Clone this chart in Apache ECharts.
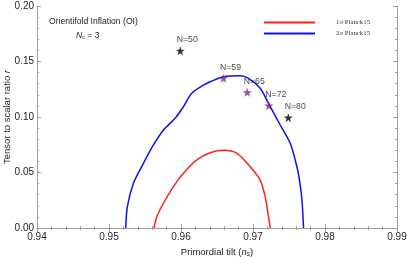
<!DOCTYPE html>
<html><head><meta charset="utf-8">
<script src="https://cdn.jsdelivr.net/npm/echarts@6/dist/echarts.min.js"></script>
<style>html,body{margin:0;padding:0;background:#fff}#c{width:407px;height:257px}</style>
</head><body><div id="c"></div>
<script>
// Tick labels
const xTicks = [0.94, 0.95, 0.96, 0.97, 0.98, 0.99];
const yTicks = [0.00, 0.05, 0.10, 0.15, 0.20];
// 1-sigma Planck15 contour (ns, r)
const sigma1 = [[0.95626,0],[0.95664,0.0102],[0.95756,0.0223],[0.95895,0.0372],[0.96034,0.0493],[0.96220,0.0613],[0.96405,0.0678],[0.96590,0.0700],[0.96776,0.0673],[0.96961,0.0552],[0.97100,0.0432],[0.97169,0.0282],[0.97215,0.0102],[0.97239,0]];
// 2-sigma Planck15 contour (ns, r)
const sigma2 = [[0.95233,0],[0.95255,0.0192],[0.95339,0.0403],[0.95478,0.0583],[0.95617,0.0748],[0.95756,0.0883],[0.95918,0.0988],[0.96034,0.1093],[0.96150,0.1214],[0.96312,0.1288],[0.96405,0.1318],[0.96590,0.1363],[0.96822,0.1372],[0.96937,0.1349],[0.97100,0.1259],[0.97215,0.1123],[0.97378,0.0928],[0.97517,0.0763],[0.97610,0.0552],[0.97646,0.0432],[0.97680,0.0252],[0.97702,0]];
// Model predictions
const blackNames = ['N=50','N=80'];
const blackPts = [[0.9599,0.1597],[0.9749,0.0994]];
const purpleNames = ['N=59','N=65','N=72'];
const purplePts = [[0.9659,0.1349],[0.9692,0.1222],[0.9722,0.1102]];

const star = 'path://M50,0 L61.8,35.1 L98.9,35.5 L69.1,57.6 L80.2,93.0 L50,71.5 L19.8,93.0 L30.9,57.6 L1.1,35.5 L38.2,35.1 Z';
const font = 'Liberation Sans, Arial, sans-serif';
const axisCol = '#a0a0a0';
const txt = '#222';

function pts(names, vals){ return vals.map((v,i)=>({name:names[i], value:v})); }

const chart = echarts.init(document.getElementById('c'));
const baseX = {type:'value', min:0.94, max:0.99, interval:0.01,
  axisLine:{lineStyle:{color:axisCol}}, axisTick:{inside:true,length:4,lineStyle:{color:axisCol}},
  minorTick:{show:true,splitNumber:5,length:2,lineStyle:{color:axisCol}}, splitLine:{show:false}};
const baseY = {type:'value', min:0, max:0.2, interval:0.05,
  axisLine:{lineStyle:{color:axisCol}}, axisTick:{inside:true,length:4,lineStyle:{color:axisCol}},
  minorTick:{show:true,splitNumber:5,length:2,lineStyle:{color:axisCol}}, splitLine:{show:false}};
chart.setOption({
  animation:false,
  grid:{left:37,right:10,top:6,bottom:29,containLabel:false,outerBoundsMode:'none'},
  legend:{left:259,top:14,orient:'vertical',itemWidth:51,itemHeight:2,icon:'rect',itemGap:4,
    textStyle:{fontFamily:'Liberation Serif, serif',fontSize:6.8,color:'#333',padding:[0,0,0,16]},
    data:['1σ Planck15','2σ Planck15']},
  xAxis:[Object.assign({}, baseX, {position:'bottom',
      axisLabel:{fontFamily:font,fontSize:10,color:txt,margin:4,formatter:v=>v.toFixed(2)},
      name:'{t|Primordial tilt (}{i|n}{s|s}{t|)}', nameLocation:'middle', nameGap:18, nameMoveOverlap:false,
      nameTextStyle:{rich:{t:{fontFamily:font,fontSize:9.5,color:txt},i:{fontFamily:font,fontSize:9.5,fontStyle:'italic',color:txt},s:{fontFamily:font,fontSize:6.5,fontStyle:'italic',color:txt,padding:[5,0,0,0]}}}}),
    Object.assign({}, baseX, {position:'top', axisLabel:{show:false}})],
  yAxis:[Object.assign({}, baseY, {position:'left',
      axisLabel:{fontFamily:font,fontSize:10,color:txt,margin:3,formatter:v=>v.toFixed(2)},
      name:'{t|Tensor to scalar ratio }{i|r}', nameLocation:'middle', nameGap:25, nameMoveOverlap:false,
      nameTextStyle:{rich:{t:{fontFamily:font,fontSize:9.5,color:txt},i:{fontFamily:font,fontSize:9.5,fontStyle:'italic',color:txt}}}}),
    Object.assign({}, baseY, {position:'right', axisLabel:{show:false}})],
  graphic:[
    {type:'text',left:49,top:17,style:{text:'Orientifold Inflation (OI)',font:'8.6px '+font,fill:txt}},
    {type:'text',left:76,top:31,style:{text:'{i|N}{s|c}{t| = 3}',rich:{i:{font:'italic 8.6px '+font,fill:txt},s:{font:'italic 5.5px '+font,fill:txt,padding:[4,0,0,0]},t:{font:'8.6px '+font,fill:txt}}}}
  ],
  series:[
    {name:'1σ Planck15',type:'line',data:sigma1,smooth:0.3,showSymbol:false,lineStyle:{color:'#ff2020',width:1.5},itemStyle:{color:'#ff2020'},z:2},
    {name:'2σ Planck15',type:'line',data:sigma2,smooth:0.3,showSymbol:false,lineStyle:{color:'#1010f0',width:1.5},itemStyle:{color:'#1010f0'},z:2},
    {type:'scatter',data:pts(blackNames,blackPts),symbol:star,symbolSize:9,itemStyle:{color:'#000'},z:5,
      label:{show:true,formatter:'{b}',position:'top',offset:[7,3],fontFamily:font,fontSize:8.7,color:'#111'}},
    {type:'scatter',data:pts(purpleNames,purplePts),symbol:star,symbolSize:9,itemStyle:{color:'#8a1c8a'},z:5,
      label:{show:true,formatter:'{b}',position:'top',offset:[7,3],fontFamily:font,fontSize:8.7,color:'#111'}}
  ]
});
</script></body></html>
